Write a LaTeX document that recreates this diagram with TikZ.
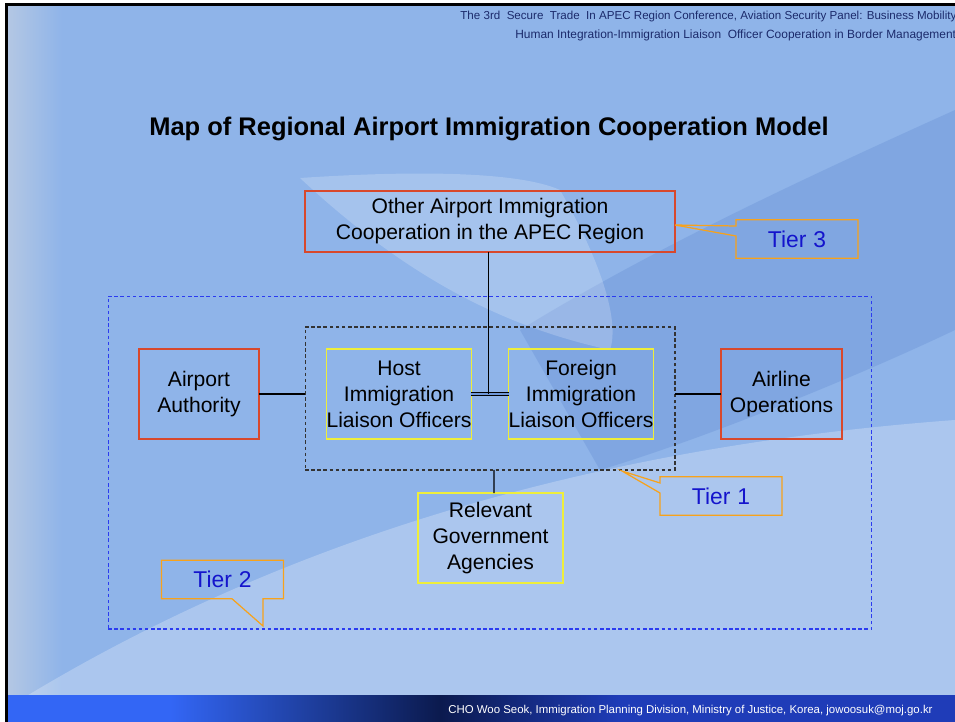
\documentclass[tikz,border=0pt]{standalone}
\usepackage{fontspec}
\setmainfont{Liberation Sans}
\usetikzlibrary{calc}

\definecolor{slidebg}{HTML}{8FB4E9}
\definecolor{swooshdark}{HTML}{6E97D8}
\definecolor{boxred}{HTML}{D8482C}
\definecolor{boxyellow}{HTML}{EEEE3A}
\definecolor{tierblue}{HTML}{1414CC}
\definecolor{calloutorange}{HTML}{F7A21B}
\definecolor{dashblue}{HTML}{2B3BF0}
\definecolor{barblue}{HTML}{3366F5}
\definecolor{barnavy}{HTML}{0B1A4E}
\definecolor{barright}{HTML}{1F3CB8}
\definecolor{headnavy}{HTML}{1B2A6B}

\tikzset{
  boxtext/.style={align=center, font=\fontsize{12}{14.8}\selectfont, inner sep=0pt, outer sep=0pt},
  redbox/.style={boxtext, draw=boxred, line width=0.8pt},
  yellowbox/.style={boxtext, draw=boxyellow, line width=0.8pt},
  tiertext/.style={text=tierblue, font=\fontsize{13}{15}\selectfont, minimum width=2.44cm, minimum height=0.77cm, inner sep=0pt, outer sep=0pt},
  callout/.style={draw=calloutorange, line width=0.7pt, line join=miter},
  tierframe/.style={dash pattern=on 2pt off 1.5pt, line width=0.6pt, inner sep=0pt, outer sep=0pt}
}

\begin{document}
\begin{tikzpicture}[x=0.02cm,y=-0.02cm]
  \useasboundingbox (0,0) rectangle (955,722);
  \clip (0,0) rectangle (955,722);

  % slide background
  \fill[white] (0,0) rectangle (955,722);
  \fill[slidebg] (6,5) rectangle (955,722);
  \shade[left color=black!10!slidebg!60!white, right color=slidebg] (8,5) rectangle (62,695);
  \fill[swooshdark, opacity=0.45] (520,330) .. controls (650,250) and (800,180) .. (955,110)
    -- (955,330) .. controls (850,380) and (700,440) .. (600,470) -- cycle;
  \fill[white, opacity=0.2] (300,178) .. controls (420,170) and (520,172) .. (560,190)
    .. controls (600,260) and (620,320) .. (610,350) .. controls (520,330) and (420,290) .. (300,178) -- cycle;
  \fill[white, opacity=0.25] (20,700) .. controls (250,560) and (550,450) .. (955,420)
    -- (955,695) -- (20,700) -- cycle;

  % footer bar
  \fill[barblue] (8,695) rectangle (955,722);
  \shade[left color=barblue, right color=barnavy] (170,695) rectangle (440,722);
  \shade[left color=barnavy, right color=barright] (440,695) rectangle (620,722);
  \fill[barright] (620,695) rectangle (955,722);
  \draw[black, line width=0.06cm] (5,5) -- (955,5);
  \draw[black, line width=0.06cm] (6.5,5) -- (6.5,722);

  % header and title
  \node[anchor=base west, text=headnavy, font=\fontsize{6.6}{8}\selectfont, inner sep=0pt] (headone) at (460,20)
    {The 3rd\ \ Secure\ \ Trade\ \ In APEC Region Conference, Aviation Security Panel: Business Mobility};
  \node[anchor=base west, text=headnavy, font=\fontsize{6.8}{8}\selectfont, inner sep=0pt] (headtwo) at (515,39)
    {Human Integration-Immigration Liaison\ \ Officer Cooperation in Border Management};
  \node[font=\fontsize{14.5}{17}\selectfont\bfseries] (title) at (489,129)
    {Map of Regional Airport Immigration Cooperation Model};
  \node[anchor=base west, text=white, font=\fontsize{6.5}{8}\selectfont, inner sep=0pt] (footer) at (448,713)
    {CHO Woo Seok, Immigration Planning Division, Ministry of Justice, Korea, jowoosuk@moj.go.kr};

  % tier frames
  \node[tierframe, draw=dashblue, minimum width=15.28cm, minimum height=6.66cm] (tiertwo) at (490,462.5) {};
  \node[tierframe, draw=black!80, minimum width=7.4cm, minimum height=2.86cm] (tierone) at (490,398.5) {};

  % boxes
  \node[redbox, minimum width=7.4cm, minimum height=1.22cm] (other) at (490,221.5)
    {Other Airport Immigration\\Cooperation in the APEC Region};
  \node[redbox, minimum width=2.4cm, minimum height=1.8cm] (authority) at (199,394)
    {Airport\\Authority};
  \node[yellowbox, minimum width=2.88cm, minimum height=1.8cm] (host) at (399,394)
    {Host\\Immigration\\Liaison Officers};
  \node[yellowbox, minimum width=2.88cm, minimum height=1.8cm] (foreign) at (581,394)
    {Foreign\\Immigration\\Liaison Officers};
  \node[redbox, minimum width=2.42cm, minimum height=1.8cm] (airline) at (781.5,394)
    {Airline\\Operations};
  \node[yellowbox, minimum width=2.9cm, minimum height=1.8cm] (agencies) at (490.5,538)
    {Relevant\\Government\\Agencies};

  % connectors
  \coordinate (hub) at ($(host.east)!0.45!(foreign.west)$);
  \draw[line width=0.6pt] (authority.east) -- (tierone.west |- authority.east);
  \draw[line width=0.6pt] (tierone.east |- airline.west) -- (airline.west);
  \draw[double=swooshdark, double distance=1.3pt, line width=0.5pt] (host.east) -- (foreign.west);
  \draw[line width=0.6pt] (other.south -| hub) -- (hub);
  \draw[line width=0.6pt] ($(agencies.north)+(3.5,0)$) -- ($(tierone.south)+(4,0)$);

  % tier callouts
  \node[tiertext] (tierthree) at (797,239) {Tier\hspace{0.3em}3};
  \coordinate (tipthree) at (675,225);
  \draw[callout] (tierthree.north west) -- (tierthree.north east) -- (tierthree.south east)
    -- (tierthree.south west) -- (tierthree.west |- 0,236) -- (tipthree) -- (tierthree.west |- 0,226) -- cycle;

  \node[tiertext] (tierlabelone) at (721,496) {Tier\hspace{0.3em}1};
  \coordinate (tipone) at (622,471);
  \draw[callout] (tierlabelone.north west) -- (tierlabelone.north east) -- (tierlabelone.south east)
    -- (tierlabelone.south west) -- (tierlabelone.west |- 0,493) -- (tipone) -- (tierlabelone.west |- 0,483) -- cycle;

  \node[tiertext] (tierlabeltwo) at (222.5,579.5) {Tier\hspace{0.3em}2};
  \coordinate (tiptwo) at (263,626);
  \draw[callout] (tierlabeltwo.north west) -- (tierlabeltwo.north east) -- (tierlabeltwo.south east)
    -- (tierlabeltwo.south -| tiptwo) -- (tiptwo) -- (tierlabeltwo.south -| 232,0) -- (tierlabeltwo.south west) -- cycle;
\end{tikzpicture}
\end{document}
